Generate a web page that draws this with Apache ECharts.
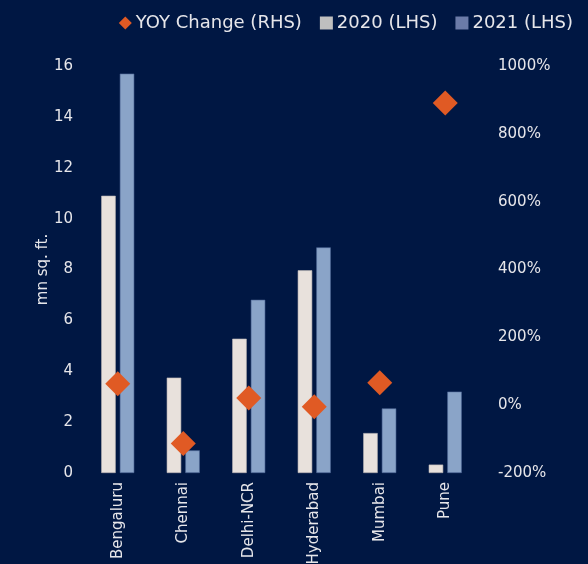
<!DOCTYPE html>
<html>
  <head>
    <meta charset="utf-8" />
    <title>ECharts</title>
    <script src="https://cdn.jsdelivr.net/npm/echarts@6/dist/echarts.min.js"></script>
    <style>
      body { margin: 0; background: #001743; }
    </style>
  </head>
  <body>
    <div id="main" style="width: 588px; height: 564px"></div>
    <script type="text/javascript">
      var cities = ["Bengaluru", "Chennai", "Delhi-NCR", "Hyderabad", "Mumbai", "Pune"];
      var data2020 = [10.9, 3.75, 5.28, 7.97, 1.57, 0.33];
      var data2021 = [15.7, 0.89, 6.81, 8.87, 2.54, 3.2];
      var yoyChange = [63, -113, 21, -5, 66, 891];

      var txt = "#e6e6ea";
      var font = "DejaVu Sans";

      var myChart = echarts.init(document.getElementById("main"));

      var option = {
        backgroundColor: "#001743",
        textStyle: { fontFamily: font },
        legend: {
          top: 9,
          right: 10,
          itemWidth: 13,
          itemHeight: 13,
          itemGap: 18,
          textStyle: { color: txt, fontSize: 18, fontFamily: font, padding: [0, 0, 0, -1] },
          data: [
            { name: "YOY Change (RHS)", icon: "diamond", itemStyle: { color: "#e05a24", borderWidth: 0, opacity: 1 } },
            { name: "2020 (LHS)", icon: "rect", itemStyle: { color: "#bfbfbf", borderWidth: 0 } },
            { name: "2021 (LHS)", icon: "rect", itemStyle: { color: "#6b7ba8", borderWidth: 0 } },
          ],
        },
        grid: { left: 85, right: 110, top: 66, bottom: 91, outerBoundsMode: "none", containLabel: false },
        xAxis: {
          type: "category",
          data: cities,
          axisLine: { show: false },
          axisTick: { show: false },
          axisLabel: { color: txt, fontSize: 15, rotate: 90, margin: 9, fontFamily: font },
        },
        yAxis: [
          {
            type: "value",
            min: 0,
            max: 16,
            interval: 2,
            name: "mn sq. ft.",
            nameLocation: "middle",
            nameGap: 34,
            nameMoveOverlap: false,
            nameRotate: 90,
            nameTextStyle: { color: txt, fontSize: 15, fontFamily: font },
            splitLine: { show: false },
            axisLine: { show: false },
            axisTick: { show: false },
            axisLabel: { color: txt, fontSize: 15, margin: 12, fontFamily: font },
          },
          {
            type: "value",
            min: -200,
            max: 1000,
            interval: 200,
            splitLine: { show: false },
            axisLine: { show: false },
            axisTick: { show: false },
            axisLabel: {
              color: txt,
              fontSize: 15,
              margin: 20,
              fontFamily: font,
              formatter: function (v) { return v + "%"; },
            },
          },
        ],
        series: [
          {
            name: "2020 (LHS)",
            type: "bar",
            barWidth: 14.5,
            barGap: "28%",
            itemStyle: { color: "#e8e1dc", borderColor: "#b8b4b4", borderWidth: 0.6 },
            data: data2020,
          },
          {
            name: "2021 (LHS)",
            type: "bar",
            barWidth: 14.5,
            itemStyle: { color: "#8aa4c8", borderColor: "#4e6795", borderWidth: 0.6 },
            data: data2021,
          },
          {
            name: "YOY Change (RHS)",
            type: "scatter",
            yAxisIndex: 1,
            symbol: "diamond",
            symbolSize: 25,
            itemStyle: { color: "#e05a24", opacity: 1 },
            data: yoyChange,
          },
        ],
      };

      myChart.setOption(option);
    </script>
  </body>
</html>
